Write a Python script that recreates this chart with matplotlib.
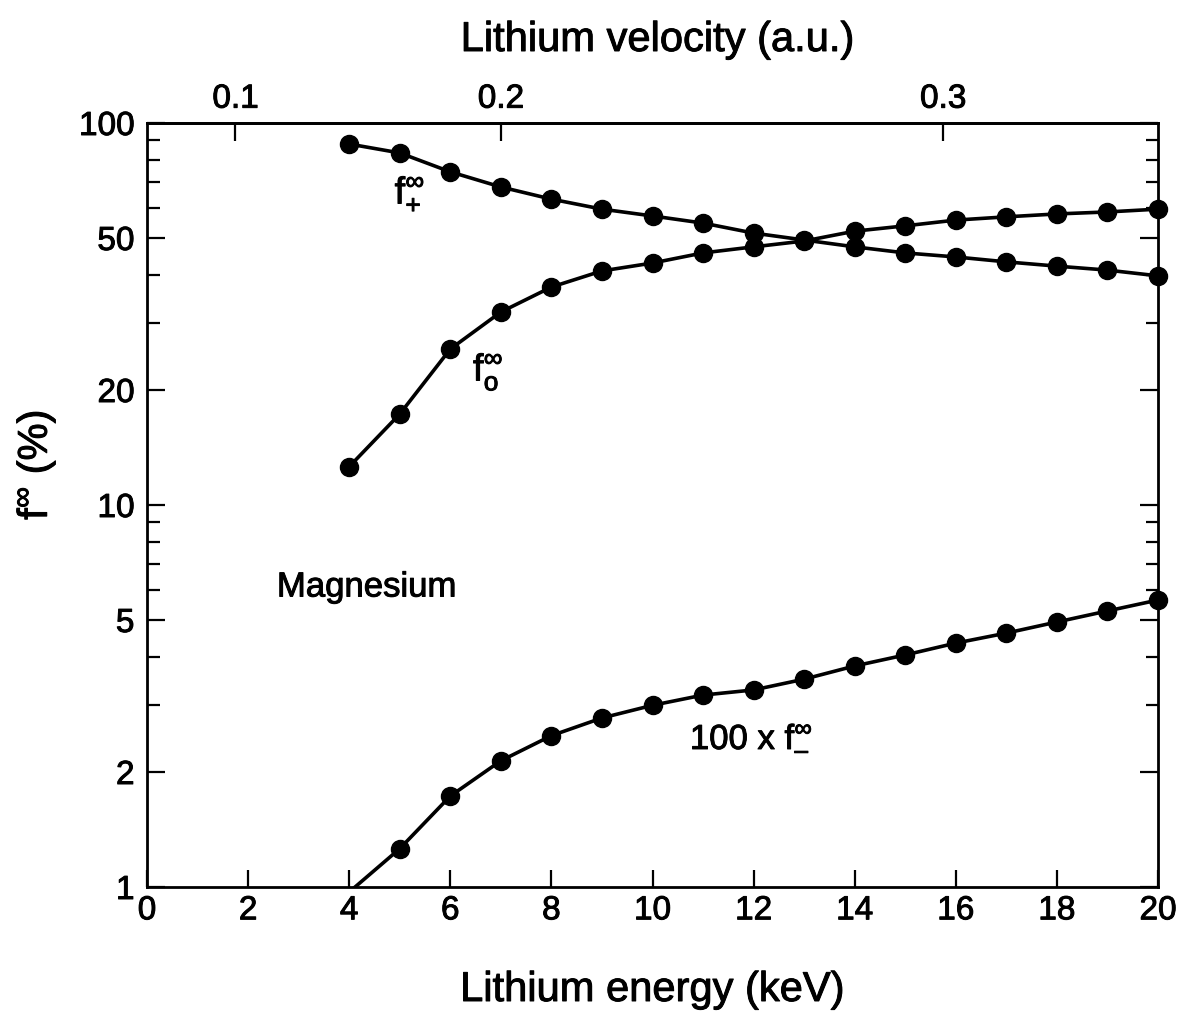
import numpy as np
import matplotlib
matplotlib.use("Agg")
import matplotlib.pyplot as plt
import matplotlib.patheffects as pe
from matplotlib.text import Text
from matplotlib.ticker import FixedLocator, NullFormatter, FixedFormatter

plt.rcParams['font.family'] = ['Liberation Sans', 'DejaVu Sans']
plt.rcParams['mathtext.fontset'] = 'custom'
plt.rcParams['mathtext.rm'] = 'Liberation Sans'
plt.rcParams['mathtext.it'] = 'Liberation Sans'
plt.rcParams['mathtext.default'] = 'regular'

# Data (Lithium energy in keV)
energy = [4, 5, 6, 7, 8, 9, 10, 11, 12, 13, 14, 15, 16, 17, 18, 19, 20]
f_plus = [88.1, 83.5, 74.5, 68.0, 63.2, 59.5, 57.1, 54.7, 51.5, 49.4, 47.4,
          45.7, 44.6, 43.3, 42.2, 41.2, 39.8]
f_zero = [12.6, 17.3, 25.6, 32.0, 37.2, 41.0, 43.0, 45.7, 47.4, 49.1, 52.1,
          53.8, 55.7, 56.8, 57.8, 58.5, 59.5]
f_minus_x100 = [0.97, 1.26, 1.73, 2.14, 2.49, 2.77, 2.99, 3.18, 3.28, 3.50, 3.79,
                4.05, 4.35, 4.62, 4.94, 5.28, 5.64]

x_ticks = [0, 2, 4, 6, 8, 10, 12, 14, 16, 18, 20]
y_major = [1, 2, 5, 10, 20, 50, 100]
y_minor = [3, 4, 6, 7, 8, 9, 30, 40, 60, 70, 80, 90]
v_ticks = [0.1, 0.2, 0.3]
LI_KEV_PER_AU = 175.0  # 25 keV/amu * 7 amu

fig = plt.figure(figsize=(11.84, 10.19), dpi=100)
ax = fig.add_axes([147/1184, 1-887/1019, (1158-147)/1184, (887-123)/1019])

lw = 2.6
ms = 13
ax.plot(energy, f_plus, color='black', lw=lw, marker='o', ms=ms, clip_on=False, zorder=3)
ax.plot(energy, f_zero, color='black', lw=lw, marker='o', ms=ms, clip_on=False, zorder=3)
ax.plot(energy, f_minus_x100, color='black', lw=lw, zorder=3)
fm = np.array(f_minus_x100)
en = np.array(energy)
mask = fm >= 1
ax.plot(en[mask], fm[mask], ls='none', color='black', marker='o', ms=ms, clip_on=False, zorder=3)

ax.set_yscale('log')
ax.set_xlim(0, 20)
ax.set_ylim(1, 100)

ax.xaxis.set_major_locator(FixedLocator(x_ticks))
ax.set_xticklabels([str(t) for t in x_ticks])
ax.yaxis.set_major_locator(FixedLocator(y_major))
ax.yaxis.set_major_formatter(FixedFormatter([str(t) for t in y_major]))
ax.yaxis.set_minor_locator(FixedLocator(y_minor))
ax.yaxis.set_minor_formatter(NullFormatter())

ax.tick_params(axis='x', which='both', direction='in', top=False, bottom=True,
               length=12, width=1.6, labelsize=24, pad=6)
ax.tick_params(axis='y', which='major', direction='in', left=True, right=True,
               length=13, width=1.6, labelsize=24, pad=9)
ax.tick_params(axis='y', which='minor', direction='in', left=True, right=True,
               length=9, width=1.6)
for s in ax.spines.values():
    s.set_linewidth(2.0)

sec = ax.secondary_xaxis('top',
                         functions=(lambda e: np.sqrt(np.clip(e, 0, None) / LI_KEV_PER_AU),
                                    lambda v: LI_KEV_PER_AU * np.asarray(v) ** 2))
sec.xaxis.set_major_locator(FixedLocator(v_ticks))
sec.xaxis.set_major_formatter(FixedFormatter([str(v) for v in v_ticks]))
sec.xaxis.set_minor_locator(FixedLocator([]))
sec.tick_params(axis='x', direction='in', length=13, width=1.6, labelsize=24, pad=6)
sec.spines['top'].set_linewidth(2.0)

fig.text(657/1184, 1-40/1019, 'Lithium velocity (a.u.)', ha='center', va='center', fontsize=30)
fig.text(652/1184, 1-990/1019, 'Lithium energy (keV)', ha='center', va='center', fontsize=30)
fig.text(36/1184, 1-465/1019, r'$f^{\infty}$ (%)', ha='center', va='center',
         rotation=90, fontsize=30)

ax.text(2.57, 6.1, 'Magnesium', ha='left', va='center', fontsize=25)
ax.text(5.2, 64.8, r'$f^{\infty}_{+}$', ha='center', va='center', fontsize=27)
ax.text(6.75, 22.3, r'$f^{\infty}_{o}$', ha='center', va='center', fontsize=27)
ax.text(10.74, 2.43, '100 x $f^{\\infty}_{\u2013}$', ha='left', va='center', fontsize=25)

fig.canvas.draw()
for t in fig.findobj(Text):
    if t.get_text():
        t.set_path_effects([pe.withStroke(linewidth=0.7, foreground='black')])

fig.savefig('out.png', dpi=100)
